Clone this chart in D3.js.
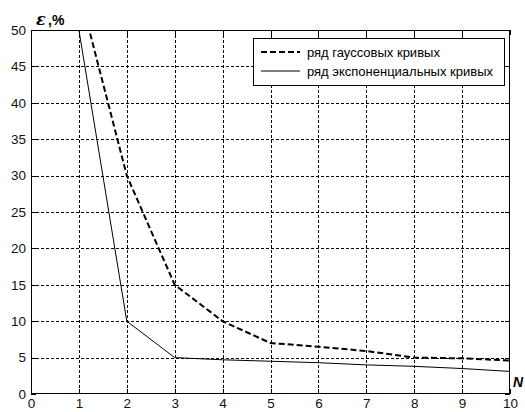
<!DOCTYPE html>
<html>
<head>
<meta charset="utf-8">
<script src="https://cdnjs.cloudflare.com/ajax/libs/d3/7.8.5/d3.min.js"></script>
<style>
  body { margin: 0; background: #fff; }
  svg { display: block; }
</style>
</head>
<body>
<svg id="chart" width="525" height="412"></svg>
<script>
    // data
    var xs = [1, 2, 3, 4, 5, 6, 7, 8, 9, 10];
    var gauss = [55.5, 30, 15, 10, 7, 6.5, 5.9, 5, 4.9, 4.6];
    var expo = [50, 10, 5, 4.7, 4.5, 4.3, 4.0, 3.8, 3.5, 3.1];
    var xTicks = [0, 1, 2, 3, 4, 5, 6, 7, 8, 9, 10];
    var yTicks = [0, 5, 10, 15, 20, 25, 30, 35, 40, 45, 50];
    var legendNames = ["ряд гауссовых кривых", "ряд экспоненциальных кривых"];

    var font = "Liberation Sans, Arial, sans-serif";
    var L = 31, R = 510, T = 30, B = 394;

    var svg = d3.select("#chart");
    var x = d3.scaleLinear().domain([0, 10]).range([L, R]);
    var y = d3.scaleLinear().domain([0, 50]).range([B, T]);

    svg.append("clipPath").attr("id", "plotclip")
        .append("rect").attr("x", L).attr("y", T).attr("width", R - L).attr("height", B - T);

    // grid
    var grid = svg.append("g").attr("stroke", "#000").attr("stroke-width", 1)
        .attr("stroke-dasharray", "3,2").attr("shape-rendering", "crispEdges");
    xTicks.slice(1, -1).forEach(function (t) {
        grid.append("line").attr("x1", Math.round(x(t)) + 0.5).attr("x2", Math.round(x(t)) + 0.5)
            .attr("y1", T).attr("y2", B);
    });
    yTicks.slice(1, -1).forEach(function (t) {
        grid.append("line").attr("y1", Math.round(y(t)) + 0.5).attr("y2", Math.round(y(t)) + 0.5)
            .attr("x1", L).attr("x2", R);
    });

    // axes (ticks inward, labels outside)
    var xAxis = d3.axisBottom(x).tickValues(xTicks).tickSize(-5).tickPadding(4);
    var yAxis = d3.axisLeft(y).tickValues(yTicks).tickSize(-5).tickPadding(5);
    var gx = svg.append("g").attr("transform", "translate(0," + B + ")").call(xAxis);
    var gy = svg.append("g").attr("transform", "translate(" + L + ",0)").call(yAxis);
    var gxt = svg.append("g").attr("transform", "translate(0," + T + ")")
        .call(d3.axisTop(x).tickValues(xTicks).tickSize(-5).tickFormat(""));
    var gyr = svg.append("g").attr("transform", "translate(" + R + ",0)")
        .call(d3.axisRight(y).tickValues(yTicks).tickSize(-5).tickFormat(""));
    [gx, gy, gxt, gyr].forEach(function (g) {
        g.select(".domain").remove();
        g.selectAll("line").attr("stroke", "#000").attr("shape-rendering", "crispEdges");
        g.selectAll("text").attr("font-family", font).attr("font-size", "13.5px").attr("fill", "#111");
    });

    // frame
    svg.append("rect").attr("x", L + 0.5).attr("y", T + 0.5).attr("width", R - L - 1).attr("height", B - T - 1)
        .attr("fill", "none").attr("stroke", "#000").attr("shape-rendering", "crispEdges");

    var line = d3.line().x(function (d) { return x(d[0]); }).y(function (d) { return y(d[1]); });
    var plot = svg.append("g").attr("clip-path", "url(#plotclip)");

    plot.append("path").datum(d3.zip(xs, expo)).attr("d", line)
        .attr("fill", "none").attr("stroke", "#000").attr("stroke-width", 1);
    plot.append("path").datum(d3.zip(xs, gauss)).attr("d", line)
        .attr("fill", "none").attr("stroke", "#000").attr("stroke-width", 2)
        .attr("stroke-dasharray", "6,3");

    // legend
    var lg = svg.append("g");
    lg.append("rect").attr("x", 253.5).attr("y", 38.5).attr("width", 251).attr("height", 47)
        .attr("fill", "#fff").attr("stroke", "#000").attr("shape-rendering", "crispEdges");
    [[52, 2, "6,3"], [71, 1, null]].forEach(function (s, i) {
        lg.append("line").attr("x1", 261).attr("x2", 300).attr("y1", s[0]).attr("y2", s[0])
            .attr("stroke", "#000").attr("stroke-width", s[1]).attr("stroke-dasharray", s[2]);
        lg.append("text").attr("x", 307).attr("y", s[0] + 4.5).text(legendNames[i])
            .attr("font-family", font).attr("font-size", "13px").attr("fill", "#000");
    });

    // axis titles
    svg.append("text").attr("x", 36).attr("y", 25).attr("font-family", "DejaVu Serif, serif")
        .attr("font-size", "16px").attr("font-weight", "bold").attr("font-style", "italic")
        .text("ε");
    svg.append("text").attr("x", 48).attr("y", 25).attr("font-family", font)
        .attr("font-size", "14px").attr("font-weight", "bold").text(",%");
    svg.append("text").attr("x", 513).attr("y", 387).attr("font-family", font)
        .attr("font-size", "14px").attr("font-weight", "bold").attr("font-style", "italic").text("N");
</script>
</body>
</html>
